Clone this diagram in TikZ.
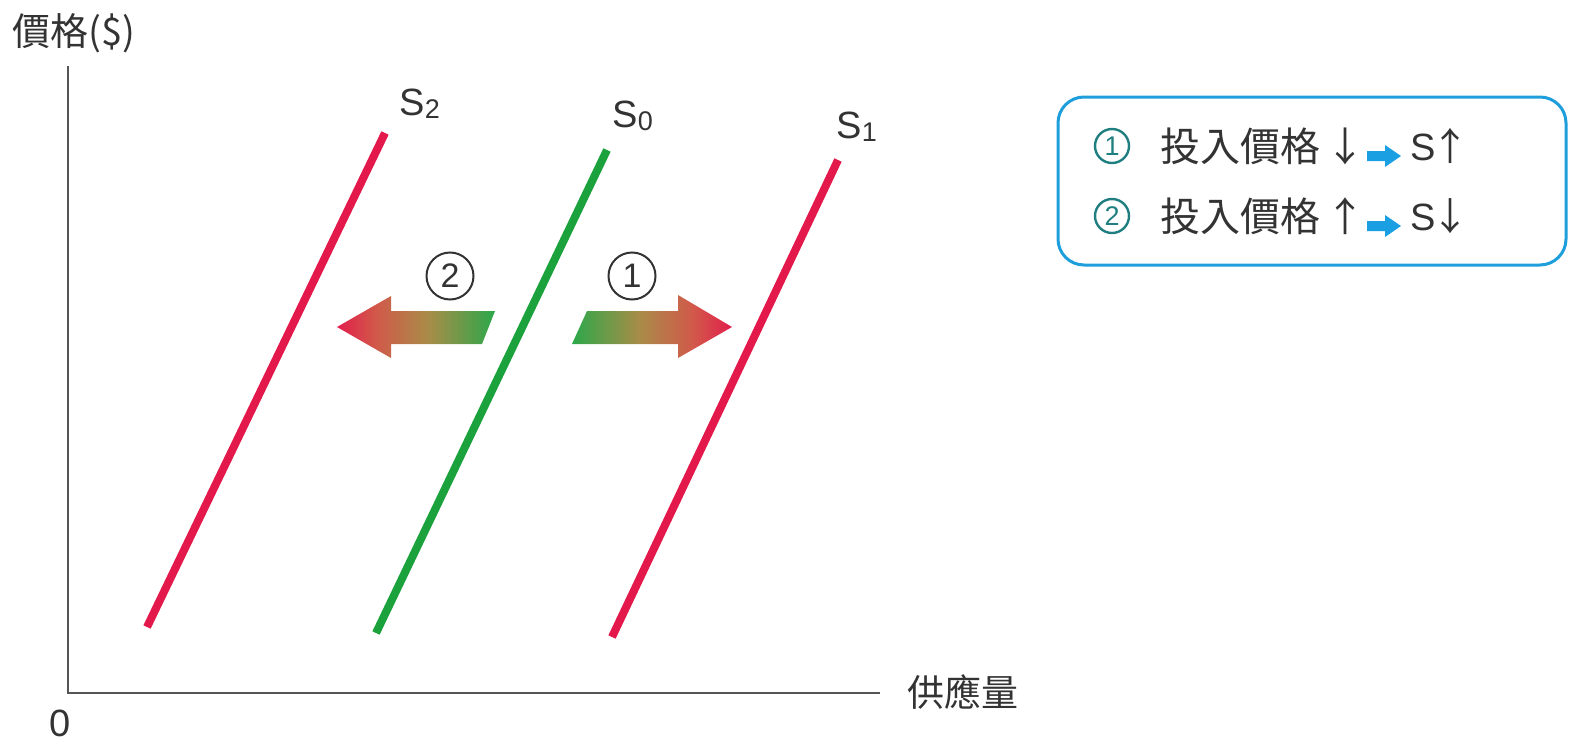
\documentclass[tikz,border=0pt]{standalone}
\usepackage{fontspec}
\setmainfont{Liberation Sans}
\newfontfamily\cjk{Noto Sans CJK TC}
\definecolor{supred}{HTML}{E3184B}
\definecolor{supgreen}{HTML}{1BA23C}
\definecolor{gradred}{HTML}{E21E4C}
\definecolor{gradcoral}{HTML}{D2584A}
\definecolor{gradolive}{HTML}{A88C48}
\definecolor{gradgreen}{HTML}{2CA84A}
\definecolor{axisgray}{HTML}{555555}
\definecolor{txt}{HTML}{333333}
\definecolor{legblue}{HTML}{1E9FDC}
\definecolor{teal}{HTML}{1F7F80}
\definecolor{arrowblue}{HTML}{1AA0E2}
\pgfdeclarehorizontalshading{shiftright}{100bp}{color(0bp)=(gradgreen); color(25bp)=(gradgreen); color(46bp)=(gradolive); color(63bp)=(gradcoral); color(75bp)=(gradred); color(100bp)=(gradred)}
\pgfdeclarehorizontalshading{shiftleft}{100bp}{color(0bp)=(gradred); color(25bp)=(gradred); color(37bp)=(gradcoral); color(54bp)=(gradolive); color(75bp)=(gradgreen); color(100bp)=(gradgreen)}
\tikzset{
  curve/.style={line width=4pt, line cap=butt},
  axisline/.style={line width=1pt, draw=axisgray},
  lbl/.style={inner sep=0pt, text=txt, font=\fontsize{19}{22}\selectfont},
  cjklbl/.style={inner sep=0pt, text=txt, font=\cjk\fontsize{18.5}{22}\selectfont},
  circnum/.style={circle, draw=txt, line width=1pt, minimum size=23.5pt, inner sep=0pt, text=txt, font=\fontsize{17}{20}\selectfont},
  legnum/.style={circle, draw=teal, line width=1.2pt, minimum size=17pt, inner sep=0pt, text=teal, font=\fontsize{13.5}{16}\selectfont},
  legtext/.style={inner sep=0pt, text=txt, font=\cjk\fontsize{20}{24}\selectfont},
  legbox/.style={draw=legblue, line width=1.5pt, rounded corners=13pt},
  bluearrow/.style={fill=arrowblue},
}
\newcommand{\subidx}[1]{\raisebox{-1.5pt}{\fontsize{13.5}{14}\selectfont #1}}
\begin{document}
\begin{tikzpicture}[x=0.5pt,y=-0.5pt]
\useasboundingbox (0,0) rectangle (1579,744);
% axes
\coordinate (O) at (68,693);
\coordinate (ytop) at (68,66);
\coordinate (xend) at (880,693);
\draw[axisline] (ytop) -- (O) -- (xend);
\node[cjklbl, anchor=west, font=\cjk\fontsize{19}{22}\selectfont] (ylab) at (12,33) {價格(\$)};
\node[cjklbl, anchor=west] (xlab) at (907,692) {供應量};
\node[lbl, anchor=base] (zero) at (60,736) {0};
% supply curves
\draw[curve, supred] (147,627) -- (385,133);
\draw[curve, supgreen] (376,633) -- (607,150);
\draw[curve, supred] (612,637) -- (838,160);
\node[lbl, anchor=base west] (s2) at (399,115) {S\subidx{2}};
\node[lbl, anchor=base west] (s0) at (612,127) {S\subidx{0}};
\node[lbl, anchor=base west] (s1) at (836,138) {S\subidx{1}};
% shift arrows
\shade[shading=shiftleft]
  (337,327) -- (391,296) -- (391,311) -- (495,311) -- (482,344) -- (391,344) -- (391,358) -- cycle;
\shade[shading=shiftright]
  (732,327) -- (678,295) -- (678,311) -- (587,311) -- (572,344) -- (678,344) -- (678,358) -- cycle;
\node[circnum] (n2) at (450,276) {2};
\node[circnum] (n1) at (632,276) {1};
% legend
\draw[legbox] (1058,97) rectangle (1566,265);
\node[legnum] (l1) at (1112,146) {1};
\node[legtext, anchor=west] (t1) at (1160,146) {投入價格};
\node[legtext] (a1) at (1345,146) {↓};
\fill[bluearrow] (1367,151) -- (1385,151) -- (1385,145) -- (1401,156) -- (1385,167) -- (1385,161) -- (1367,161) -- cycle;
\node[lbl, anchor=west] (r1) at (1410,146) {S\kern-2pt{\cjk↑}};
\node[legnum] (l2) at (1112,216) {2};
\node[legtext, anchor=west] (t2) at (1160,216) {投入價格};
\node[legtext] (a2) at (1345,216) {↑};
\fill[bluearrow] (1367,221) -- (1385,221) -- (1385,215) -- (1401,226) -- (1385,237) -- (1385,231) -- (1367,231) -- cycle;
\node[lbl, anchor=west] (r2) at (1410,216) {S\kern-2pt{\cjk↓}};
\end{tikzpicture}
\end{document}
